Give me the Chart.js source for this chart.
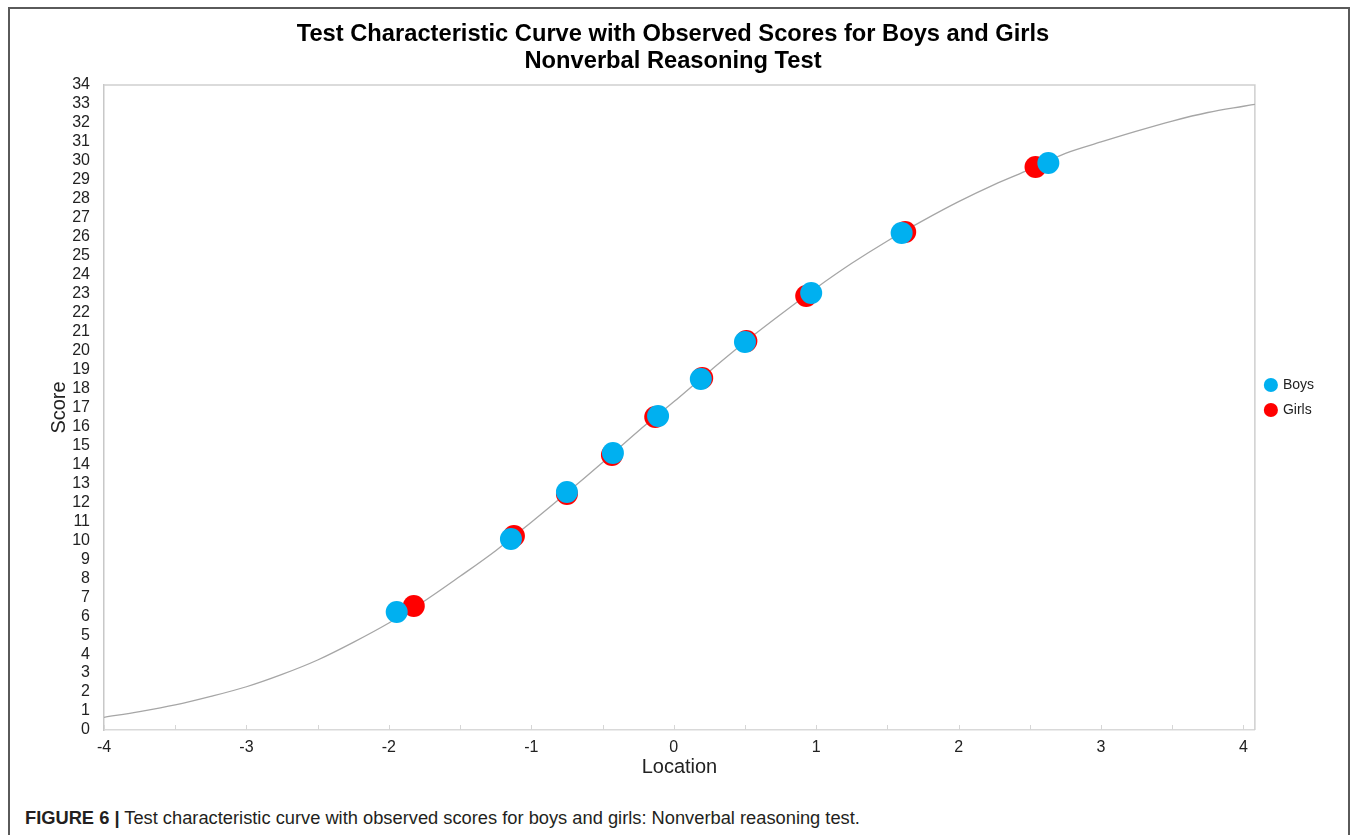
<!DOCTYPE html>
<html>
<head>
<meta charset="utf-8">
<script src="https://cdn.jsdelivr.net/npm/chart.js@4/dist/chart.umd.min.js"></script>
<style>
  html, body { margin: 0; padding: 0; background: #fff; }
  body { width: 1355px; height: 835px; position: relative; overflow: hidden; font-family: "Liberation Sans", Arial, sans-serif; }
  #frame { position: absolute; left: 8px; top: 7px; width: 1342px; height: 860px; border: 2px solid #5a5a5a; box-sizing: border-box; }
  #chart { position: absolute; left: 0; top: 0; }
  #caption { position: absolute; left: 25px; top: 807px; font-size: 18.3px; color: #231f20; white-space: nowrap; }
  #caption b { font-weight: bold; }
</style>
</head>
<body>
<div id="frame"></div>
<canvas id="chart" width="1355" height="790"></canvas>
<div id="caption"><b>FIGURE 6 |</b> Test characteristic curve with observed scores for boys and girls: Nonverbal reasoning test.</div>
<script>
// Observed mean scores by ability location
const boysLocation  = [-1.945, -1.143, -0.75, -0.427, -0.11, 0.19, 0.50, 0.965, 1.60, 2.63];
const boysScore     = [6.22, 10.07, 12.55, 14.6, 16.55, 18.5, 20.45, 23.04, 26.2, 29.89];
const girlsLocation = [-1.825, -1.122, -0.75, -0.434, -0.13, 0.20, 0.51, 0.93, 1.625, 2.54];
const girlsScore    = [6.54, 10.23, 12.44, 14.5, 16.5, 18.56, 20.5, 22.88, 26.25, 29.68];

// Expected score (test characteristic curve)
const curveLocation = [-4, -3.75, -3.5, -3.25, -3, -2.75, -2.5, -2.25, -2, -1.75, -1.5, -1.25, -1, -0.75, -0.5, -0.25,
                       0, 0.25, 0.5, 0.75, 1, 1.25, 1.5, 1.75, 2, 2.25, 2.5, 2.75, 3, 3.25, 3.5, 3.75, 4, 4.08];
const curveScore    = [0.67, 0.97, 1.32, 1.77, 2.28, 2.93, 3.69, 4.62, 5.64, 6.8, 8.1, 9.45, 10.95, 12.5, 14.1, 15.75,
                       17.3, 18.9, 20.45, 21.9, 23.3, 24.6, 25.78, 26.85, 27.85, 28.75, 29.55, 30.4, 31.0, 31.57, 32.1, 32.55, 32.88, 32.98];

const xTicks = [-4, -3.5, -3, -2.5, -2, -1.5, -1, -0.5, 0, 0.5, 1, 1.5, 2, 2.5, 3, 3.5, 4];

const toPoints = (xs, ys) => xs.map((x, i) => ({ x: x, y: ys[i] }));

const FONT = '"Liberation Sans", Arial, sans-serif';

// Plot-area frame (top/right) and inside tick marks on the x axis
const frameAndTicks = {
  id: 'frameAndTicks',
  beforeDatasetsDraw(chart) {
    const { ctx, chartArea: a, scales: { x } } = chart;
    ctx.save();
    ctx.strokeStyle = '#cfcfcf';
    ctx.lineWidth = 1.5;
    ctx.beginPath();
    ctx.moveTo(a.left, a.top);
    ctx.lineTo(a.right, a.top);
    ctx.lineTo(a.right, a.bottom);
    ctx.stroke();
    ctx.strokeStyle = '#d6d6d6';
    ctx.lineWidth = 1;
    xTicks.forEach(v => {
      const px = Math.round(x.getPixelForValue(v)) + 0.5;
      ctx.beginPath();
      ctx.moveTo(px, a.bottom);
      ctx.lineTo(px, a.bottom - 5);
      ctx.stroke();
    });
    ctx.restore();
  }
};

new Chart(document.getElementById('chart'), {
  type: 'scatter',
  data: {
    datasets: [
      {
        label: 'Boys',
        data: toPoints(boysLocation, boysScore),
        backgroundColor: '#00B0F0',
        borderColor: '#00B0F0',
        borderWidth: 0,
        pointRadius: 11,
        pointHoverRadius: 11
      },
      {
        label: 'Girls',
        data: toPoints(girlsLocation, girlsScore),
        backgroundColor: '#FF0000',
        borderColor: '#FF0000',
        borderWidth: 0,
        pointRadius: 11,
        pointHoverRadius: 11
      },
      {
        label: 'TCC',
        data: toPoints(curveLocation, curveScore),
        showLine: true,
        borderColor: '#a6a6a6',
        borderWidth: 1.3,
        pointRadius: 0,
        cubicInterpolationMode: 'monotone',
        fill: false
      }
    ]
  },
  options: {
    responsive: false,
    animation: false,
    layout: { padding: { left: 22, right: 31, top: 0, bottom: 10 } },
    plugins: {
      tooltip: { enabled: false },
      title: {
        display: true,
        text: ['Test Characteristic Curve with Observed Scores for Boys and Girls', 'Nonverbal Reasoning Test'],
        color: '#000',
        font: { family: FONT, size: 23.7, weight: 'bold', lineHeight: '27px' },
        padding: { top: 20.5, bottom: 10.5 }
      },
      legend: {
        position: 'right',
        title: {
          display: true,
          text: '',
          font: { size: 10, lineHeight: '11px' },
          padding: { top: 2, bottom: 2 }
        },
        labels: {
          usePointStyle: true,
          pointStyle: 'circle',
          boxWidth: 10,
          boxHeight: 10,
          padding: 11,
          color: '#222',
          font: { family: FONT, size: 14 },
          filter: item => item.text !== 'TCC'
        }
      }
    },
    scales: {
      x: {
        type: 'linear',
        min: -4,
        max: 4.08,
        afterBuildTicks: s => { s.ticks = xTicks.map(v => ({ value: v })); },
        afterFit: s => { s.height = 50; },
        grid: { display: true, drawOnChartArea: false, drawTicks: false },
        border: { display: true, color: '#d9d9d9', width: 1.5 },
        ticks: {
          autoSkip: false,
          maxRotation: 0,
          padding: 8,
          color: '#222',
          font: { family: FONT, size: 16 },
          callback: v => (Number.isInteger(v) ? String(v) : '')
        },
        title: {
          display: true,
          text: 'Location',
          color: '#222',
          font: { family: FONT, size: 20 },
          padding: { top: 0, bottom: 1 }
        }
      },
      y: {
        type: 'linear',
        min: 0,
        max: 34,
        afterFit: s => { s.width = 82; },
        grid: { display: false, drawTicks: false },
        border: { display: true, color: '#c8c8c8', width: 1.5 },
        ticks: {
          stepSize: 1,
          autoSkip: false,
          padding: 14,
          color: '#222',
          font: { family: FONT, size: 16 }
        },
        title: {
          display: true,
          text: 'Score',
          color: '#222',
          font: { family: FONT, size: 20 },
          padding: { top: 25, bottom: 0 }
        }
      }
    }
  },
  plugins: [frameAndTicks]
});
</script>
</body>
</html>
